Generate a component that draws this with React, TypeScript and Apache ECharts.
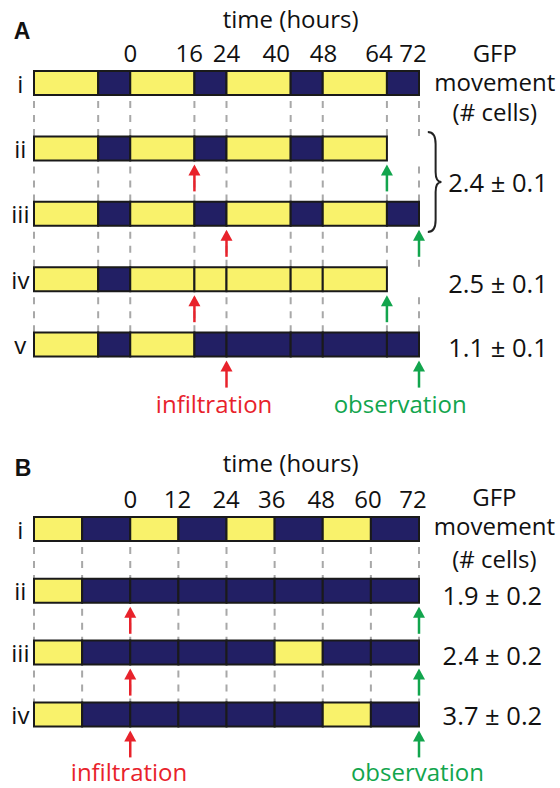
import React, { useEffect, useRef } from 'react';
import * as echarts from 'echarts';

// ---------- shared ----------
const HOURS_MIN = -24;
const HOURS_MAX = 72;

// ---------- Panel A ----------
const aBounds = [-24, -8, 0, 16, 24, 40, 48, 64, 72];
const aTicks = ['0', '16', '24', '40', '48', '64', '72'];
const aTickLabelAt = [0, 14.7, 24, 36.4, 48.2, 62, 70.5];
const aRowNames = ['i', 'ii', 'iii', 'iv', 'v'];
const aRowI = ['L', 'D', 'L', 'D', 'L', 'D', 'L', 'D'];
const aRowII = ['L', 'D', 'L', 'D', 'L', 'D', 'L'];
const aRowIII = ['L', 'D', 'L', 'D', 'L', 'D', 'L', 'D'];
const aRowIV = ['L', 'D', 'L', 'L', 'L', 'L', 'L'];
const aRowV = ['L', 'D', 'L', 'D', 'D', 'D', 'D', 'D'];
const aInfiltration = [null, 16, 24, 16, 24];
const aObservation = [null, 64, 72, 64, 72];
const aValues = ['2.4 ± 0.1', '2.5 ± 0.1', '1.1 ± 0.1'];
const aValueRows = [1.51, 3.06, 4.04];

// ---------- Panel B ----------
const bBounds = [-24, -12, 0, 12, 24, 36, 48, 60, 72];
const bTicks = ['0', '12', '24', '36', '48', '60', '72'];
const bTickLabelAt = [0, 11.8, 23.9, 35.3, 47.6, 59.3, 70.5];
const bRowNames = ['i', 'ii', 'iii', 'iv'];
const bRowI = ['L', 'D', 'L', 'D', 'L', 'D', 'L', 'D'];
const bRowII = ['L', 'D', 'D', 'D', 'D', 'D', 'D', 'D'];
const bRowIII = ['L', 'D', 'D', 'D', 'D', 'L', 'D', 'D'];
const bRowIV = ['L', 'D', 'D', 'D', 'D', 'D', 'L', 'D'];
const bInfiltration = [null, 0, 0, 0];
const bObservation = [null, 72, 72, 72];
const bValues = ['1.9 ± 0.2', '2.4 ± 0.2', '3.7 ± 0.2'];
const bValueRows = [1.07, 2.04, 3.01];

const BAR_H = 24;
const YELLOW = '#F9F26B';
const NAVY = '#221F64';
const EDGE = '#1a1a1a';
const RED = '#E8222B';
const GREEN = '#12A54D';
const DASH = '#A8A8A8';
const FONT = "'Open Sans', 'DejaVu Sans', sans-serif";

type TextItem = {
  h: number;
  r: number;
  text: string;
  size?: number;
  color?: string;
  weight?: string;
  family?: string;
};

type Panel = {
  bounds: number[];
  rows: string[][];
  rowNames: string[];
  infil: (number | null)[];
  obs: (number | null)[];
  ticks: string[];
  tickAt: number[];
  values: string[];
  valueRows: number[];
  letter: string;
  letterPos: [number, number];
  titleRow: number;
  tickRow: number;
  gfpRows: number[];
  gfpH: number;
  valueH: number;
  infilPos: [number, number];
  obsPos: [number, number];
  brace?: [number, number, number, number];
};

const panelA: Panel = {
  bounds: aBounds,
  rows: [aRowI, aRowII, aRowIII, aRowIV, aRowV],
  rowNames: aRowNames,
  infil: aInfiltration,
  obs: aObservation,
  ticks: aTicks,
  tickAt: aTickLabelAt,
  values: aValues,
  valueRows: aValueRows,
  letter: 'A',
  letterPos: [-27, -0.8],
  titleRow: -0.99,
  tickRow: -0.46,
  gfpRows: [-0.46, -0.03, 0.43],
  gfpH: 90.9,
  valueH: 91.7,
  infilPos: [20.9, 4.9],
  obsPos: [67.3, 4.9],
  brace: [74.2, 77.6, 0.75, 2.28],
};

const panelB: Panel = {
  bounds: bBounds,
  rows: [bRowI, bRowII, bRowIII, bRowIV],
  rowNames: bRowNames,
  infil: bInfiltration,
  obs: bObservation,
  ticks: bTicks,
  tickAt: bTickLabelAt,
  values: bValues,
  valueRows: bValueRows,
  letter: 'B',
  letterPos: [-26.7, -0.99],
  titleRow: -1.08,
  tickRow: -0.5,
  gfpRows: [-0.52, -0.05, 0.47],
  gfpH: 90.8,
  valueH: 90.3,
  infilPos: [-0.3, 3.93],
  obsPos: [71.6, 3.93],
};

function buildSeries(p: Panel, gi: number): any[] {
  const segData: number[][] = [];
  p.rows.forEach((states, r) =>
    states.forEach((s, k) => segData.push([p.bounds[k], p.bounds[k + 1], r, s === 'L' ? 0 : 1]))
  );
  const dashData: number[][] = [];
  for (let r = 0; r < p.rows.length - 1; r++) p.bounds.forEach((b) => dashData.push([b, r]));
  const arrowData: number[][] = [];
  p.infil.forEach((h, r) => { if (h != null) arrowData.push([h, r, 0]); });
  p.obs.forEach((h, r) => { if (h != null) arrowData.push([h, r, 1]); });

  const texts: TextItem[] = [];
  texts.push({ h: p.letterPos[0], r: p.letterPos[1], text: p.letter, size: 23, weight: 'bold', family: "'Liberation Sans', Arial, sans-serif" });
  texts.push({ h: 40, r: p.titleRow, text: 'time (hours)' });
  p.ticks.forEach((t, i) => texts.push({ h: p.tickAt[i], r: p.tickRow, text: t }));
  p.rowNames.forEach((n, r) => texts.push({ h: -27.4, r, text: n }));
  ['GFP', 'movement', '(# cells)'].forEach((t, i) => texts.push({ h: p.gfpH, r: p.gfpRows[i], text: t }));
  p.values.forEach((v, i) => texts.push({ h: p.valueH, r: p.valueRows[i], text: v, size: 25.5 }));
  texts.push({ h: p.infilPos[0], r: p.infilPos[1], text: 'infiltration', color: RED });
  texts.push({ h: p.obsPos[0], r: p.obsPos[1], text: 'observation', color: GREEN });

  const series: any[] = [
    {
      type: 'custom',
      xAxisIndex: gi,
      yAxisIndex: gi,
      data: dashData,
      z: 1,
      renderItem: (params: any, api: any) => {
        const a = api.coord([api.value(0), api.value(1)]);
        const b = api.coord([api.value(0), api.value(1) + 1]);
        return {
          type: 'line',
          shape: { x1: a[0], y1: a[1] + BAR_H / 2 + 6, x2: a[0], y2: b[1] - BAR_H / 2 },
          style: { stroke: DASH, lineWidth: 2, lineDash: [7, 7] },
        };
      },
    },
    {
      type: 'custom',
      xAxisIndex: gi,
      yAxisIndex: gi,
      data: segData,
      z: 2,
      renderItem: (params: any, api: any) => {
        const a = api.coord([api.value(0), api.value(2)]);
        const b = api.coord([api.value(1), api.value(2)]);
        return {
          type: 'rect',
          shape: { x: a[0], y: a[1] - BAR_H / 2, width: b[0] - a[0], height: BAR_H },
          style: { fill: api.value(3) === 0 ? YELLOW : NAVY, stroke: EDGE, lineWidth: 2 },
        };
      },
    },
    {
      type: 'custom',
      xAxisIndex: gi,
      yAxisIndex: gi,
      data: arrowData,
      z: 3,
      renderItem: (params: any, api: any) => {
        const c = api.coord([api.value(0), api.value(1)]);
        const col = api.value(2) === 0 ? RED : GREEN;
        const x = c[0];
        const tip = c[1] + BAR_H / 2 + 4;
        return {
          type: 'group',
          children: [
            { type: 'line', shape: { x1: x, y1: tip + 8, x2: x, y2: tip + 27 }, style: { stroke: col, lineWidth: 2.5 } },
            { type: 'polygon', shape: { points: [[x, tip], [x - 6, tip + 11], [x + 6, tip + 11]] }, style: { fill: col } },
          ],
        };
      },
    },
    {
      type: 'custom',
      xAxisIndex: gi,
      yAxisIndex: gi,
      data: texts.map((t) => [t.h, t.r]),
      z: 4,
      renderItem: (params: any, api: any) => {
        const t = texts[params.dataIndex];
        const c = api.coord([api.value(0), api.value(1)]);
        const fs = t.size || 24;
        return {
          type: 'text',
          x: c[0],
          y: c[1],
          style: {
            text: t.text,
            fill: t.color || '#111',
            fontSize: fs,
            lineHeight: fs,
            fontWeight: t.weight || 'normal',
            fontFamily: t.family || FONT,
            align: 'center',
            verticalAlign: 'middle',
          },
        };
      },
    },
  ];

  if (p.brace) {
    const br = p.brace;
    series.push({
      type: 'custom',
      xAxisIndex: gi,
      yAxisIndex: gi,
      data: [[br[0], br[2], br[1], br[3]]],
      z: 4,
      renderItem: (params: any, api: any) => {
        const a = api.coord([api.value(0), api.value(1)]);
        const b = api.coord([api.value(2), api.value(3)]);
        return {
          type: 'path',
          shape: {
            pathData: 'M0,0 C6,0 8,4 8,12 L8,40 C8,47 10,50 14,50 C10,50 8,53 8,60 L8,88 C8,96 6,100 0,100',
            layout: 'cover',
            x: a[0],
            y: a[1],
            width: b[0] - a[0],
            height: b[1] - a[1],
          },
          style: { fill: 'none', stroke: '#222', lineWidth: 2 },
        };
      },
    });
  }
  return series;
}

export default function App() {
  const ref = useRef<HTMLDivElement>(null);
  useEffect(() => {
    document.body.style.margin = '0';
    if (!ref.current) return;
    const chart = echarts.init(ref.current, undefined, { renderer: 'svg' });
    const axisHidden = { show: false };
    chart.setOption({
      animation: false,
      backgroundColor: '#ffffff',
      grid: [
        { left: 34, width: 385, top: 17.6, height: 392.4 },
        { left: 34, width: 385, top: 467.2, height: 309 },
      ],
      xAxis: [
        { type: 'value', gridIndex: 0, min: HOURS_MIN, max: HOURS_MAX, ...axisHidden },
        { type: 'value', gridIndex: 1, min: HOURS_MIN, max: HOURS_MAX, ...axisHidden },
      ],
      yAxis: [
        { type: 'value', gridIndex: 0, min: -1, max: 5, inverse: true, ...axisHidden },
        { type: 'value', gridIndex: 1, min: -1, max: 4, inverse: true, ...axisHidden },
      ],
      series: [...buildSeries(panelA, 0), ...buildSeries(panelB, 1)],
    });
    return () => chart.dispose();
  }, []);
  return <div ref={ref} style={{ width: 560, height: 788 }} />;
}
